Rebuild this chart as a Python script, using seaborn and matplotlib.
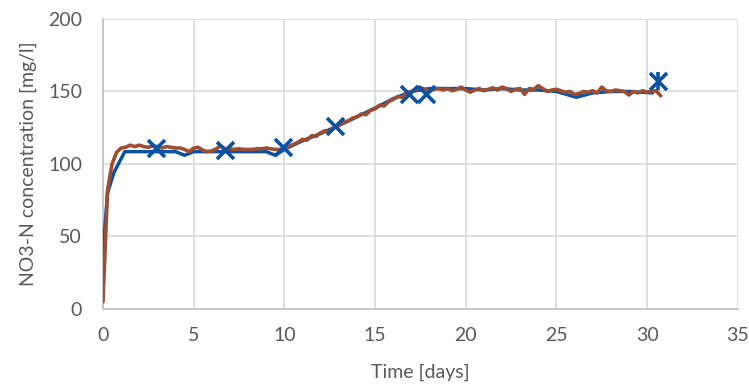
import numpy as np
import pandas as pd
from matplotlib import pyplot as plt
import seaborn as sns

# measured (sensor) series, brown
meas_t = [0.00, 0.25, 0.50, 0.75, 1.00, 1.25, 1.50, 1.75, 2.00, 2.25, 2.50, 2.75,
          3.00, 3.25, 3.50, 3.75, 4.00, 4.25, 4.50, 4.75, 5.00, 5.25, 5.50, 5.75,
          6.00, 6.25, 6.50, 6.75, 7.00, 7.25, 7.50, 7.75, 8.00, 8.25, 8.50, 8.75,
          9.00, 9.25, 9.50, 9.75, 10.00, 10.25, 10.50, 10.75, 11.00, 11.25, 11.50, 11.75,
          12.00, 12.25, 12.50, 12.75, 13.00, 13.25, 13.50, 13.75, 14.00, 14.25, 14.50, 14.75,
          15.00, 15.25, 15.50, 15.75, 16.00, 16.25, 16.50, 16.75, 17.00, 17.25, 17.50, 17.75,
          18.00, 18.25, 18.50, 18.75, 19.00, 19.25, 19.50, 19.75, 20.00, 20.25, 20.50, 20.75,
          21.00, 21.25, 21.50, 21.75, 22.00, 22.25, 22.50, 22.75, 23.00, 23.25, 23.50, 23.75,
          24.00, 24.25, 24.50, 24.75, 25.00, 25.25, 25.50, 25.75, 26.00, 26.25, 26.50, 26.75,
          27.00, 27.25, 27.50, 27.75, 28.00, 28.25, 28.50, 28.75, 29.00, 29.25, 29.50, 29.75,
          30.00, 30.25, 30.50, 30.75]
meas_no3 = [5, 82, 100, 108, 111, 111.5, 113, 112, 113, 112, 111.5, 112.5,
            112, 111, 112, 111.5, 111, 111, 110, 108.5, 111, 111.5, 109.5, 108.5,
            109, 110.5, 112.5, 110, 110.5, 110, 110.5, 110, 110, 110, 110.5, 110.5,
            111, 110.5, 110, 110, 110.5, 112, 113.5, 115, 117, 116.5, 119.5, 119,
            121.5, 123, 122, 125.5, 126.5, 128.5, 129.5, 131.5, 132.5, 134.5, 134, 137,
            138, 140.5, 140, 143, 144.5, 146.5, 146, 149, 150, 151.5, 152.5, 151.5,
            150, 151.5, 152, 151, 152, 150.5, 151.5, 153, 151, 149.5, 151, 152,
            150.5, 151.5, 152.5, 151, 153, 152, 150, 151.5, 152, 148, 152, 151.5,
            154, 152, 150, 151, 151.5, 150.5, 149.5, 150, 148, 148.5, 150, 149.5,
            150.5, 149, 153, 150.5, 150, 151, 150.5, 150, 147.5, 150, 149, 150.5,
            149.5, 150, 150.5, 147]

# model series, blue
model_t = [0, 0.25, 0.6, 1.2, 4.0, 4.5, 5.0, 9.0, 9.5, 10.0, 11, 12, 13, 14, 15, 16,
           17, 18, 19, 20, 21, 22, 23, 24, 25, 26.1, 27, 28, 29, 30.3]
model_no3 = [39, 80, 94, 108.5, 108.5, 106, 108.5, 108.5, 106, 110, 116, 121, 126.5, 132.5, 138.5, 145,
             150, 152, 152, 152, 151, 152, 151, 151, 150, 146, 149, 150, 150, 149]

# lab samples (x markers)
lab_t = [2.9, 6.7, 9.9, 12.8, 16.9, 17.8, 30.6]
lab_no3 = [111, 109.5, 111.5, 126, 148, 148, 157]

meas = pd.DataFrame({'t': meas_t, 'no3': meas_no3})
model = pd.DataFrame({'t': model_t, 'no3': model_no3})
lab = pd.DataFrame({'t': lab_t, 'no3': lab_no3})

sns.set_style('white')
plt.rcParams['font.family'] = ['Lato', 'DejaVu Sans']

blue = '#0B52A0'
brown = '#9C4E32'
grey_txt = '#595959'

fig = plt.figure(figsize=(7.49, 3.87), dpi=100)
ax = fig.add_axes([0.1375, 0.2016, 0.8475, 0.7494])

sns.lineplot(data=model, x='t', y='no3', ax=ax, color=blue, lw=2.5, sort=False, zorder=3)
sns.lineplot(data=meas, x='t', y='no3', ax=ax, color=brown, lw=2.6, sort=False, zorder=4)
sns.scatterplot(data=lab, x='t', y='no3', ax=ax, marker='x', s=150, color=blue,
                linewidth=2.6, zorder=5)
# last sample drawn as asterisk
ax.plot(lab_t[-1], lab_no3[-1], marker='|', ms=13, mew=2.6, color=blue, zorder=5)

ax.set_xlim(0, 35)
ax.set_ylim(0, 200)
ax.set_xticks(range(0, 36, 5))
ax.set_yticks(range(0, 201, 50))
ax.grid(True, color='#d9d9d9', lw=1.2)
ax.set_axisbelow(True)
for s in ['top', 'right']:
    ax.spines[s].set_visible(False)
for s in ['left', 'bottom']:
    ax.spines[s].set_color('#bfbfbf')
    ax.spines[s].set_linewidth(1.2)
fs = 14
ax.tick_params(axis='x', length=0, labelsize=fs, labelcolor=grey_txt, pad=13)
ax.tick_params(axis='y', length=0, labelsize=fs, labelcolor=grey_txt, pad=15)
ax.set_xlabel('Time [days]', fontsize=fs, color=grey_txt, labelpad=14)
ax.set_ylabel('NO3-N concentration [mg/l]', fontsize=fs, color=grey_txt, labelpad=8)

fig.savefig('out.png', dpi=100)
